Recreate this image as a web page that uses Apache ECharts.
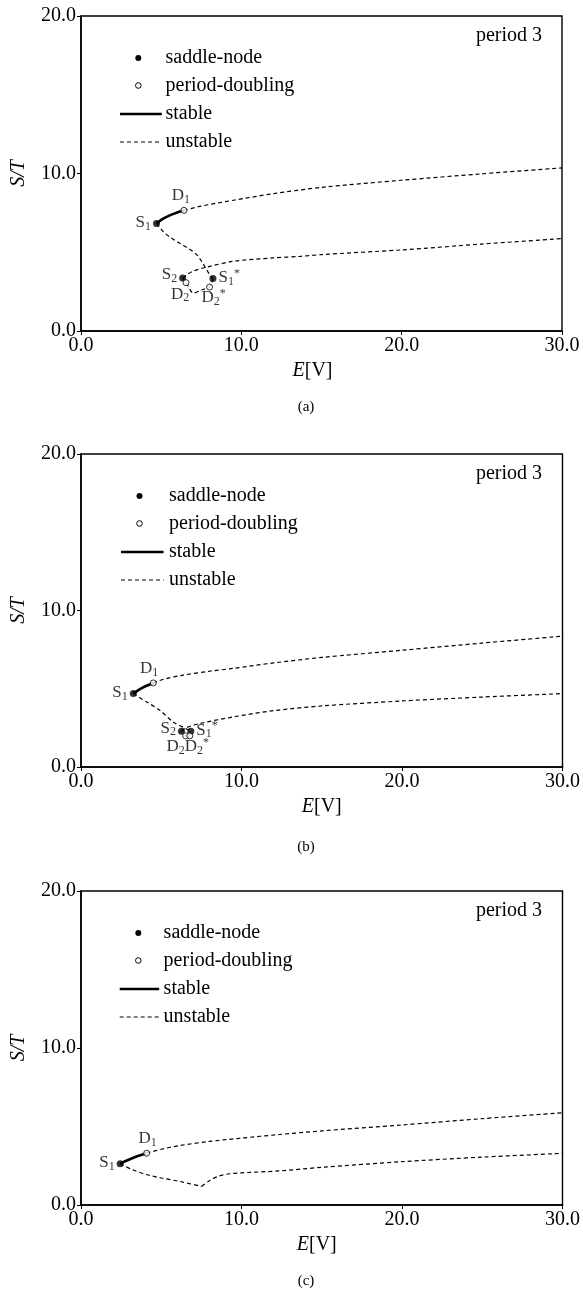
<!DOCTYPE html>
<html><head><meta charset="utf-8">
<script src="https://cdn.jsdelivr.net/npm/echarts@6/dist/echarts.min.js"></script>
<style>html,body{margin:0;padding:0;background:#fff}#c{width:583px;height:1290px}</style>
</head><body><div id="c"></div>
<script>
// ---------- data ----------
const xTicks = [0, 10, 20, 30];
const yTicks = [0, 10, 20];
const legendLabels = ['saddle-node', 'period-doubling', 'stable', 'unstable'];
const panelCaptions = ['(a)', '(b)', '(c)'];
const periodLabel = 'period 3';
const xName = 'E[V]';
const yName = 'S/T';

// Panel (a)
const stableA = [[4.71,6.83],[5.1,7.12],[5.57,7.36],[6.0,7.53],[6.42,7.66]];
const upperA = [[6.42,7.66],[7.5,7.93],[9.5,8.30],[12,8.72],[15,9.12],[20,9.57],[25,9.98],[30,10.36]];
const descA = [[4.71,6.83],[5.15,6.29],[5.6,5.92],[6.19,5.55],[6.7,5.24],[7.02,5.02],[7.3,4.75],[7.55,4.38],[7.86,3.85],[8.05,3.55],[8.23,3.33]];
const loopA = [[8.23,3.33],[8.02,2.79],[7.55,2.62],[7.02,2.41],[6.55,3.07],[6.34,3.37]];
const lowerA = [[6.34,3.37],[6.6,3.57],[7.02,3.81],[7.86,4.06],[9.52,4.43],[12,4.64],[13.68,4.74],[15,4.85],[20,5.15],[25,5.52],[30,5.87]];
const saddleA = [[4.71,6.83],[6.34,3.37],[8.23,3.33]];
const saddleNamesA = ['S1','S2','S1*'];
const pdA = [[6.42,7.66],[6.55,3.07],[8.02,2.79]];
const pdNamesA = ['D1','D2','D2*'];

// Panel (b)
const stableB = [[3.26,4.69],[3.6,4.93],[3.95,5.13],[4.5,5.37]];
const upperB = [[4.5,5.37],[5.2,5.62],[6.37,5.87],[8,6.12],[9.48,6.30],[12,6.65],[15,7.0],[20,7.46],[25,7.92],[30,8.36]];
const descB = [[3.26,4.69],[4.1,4.15],[4.91,3.63],[5.74,2.88],[6.52,2.46],[6.84,2.28]];
const loopB = [[6.84,2.28],[6.78,1.99],[6.65,1.92],[6.52,1.99],[6.26,2.28]];
const lowerB = [[6.26,2.28],[6.52,2.5],[7.41,2.78],[9.48,3.2],[12,3.6],[15,3.9],[20,4.22],[25,4.47],[30,4.69]];
const saddleB = [[3.26,4.69],[6.26,2.28],[6.84,2.28]];
const saddleNamesB = ['S1','S2','S1*'];
const pdB = [[4.5,5.37],[6.52,1.99],[6.78,1.99]];
const pdNamesB = ['D1','D2','D2*'];

// Panel (c)
const stableC = [[2.44,2.63],[2.9,2.85],[3.5,3.1],[4.09,3.3]];
const upperC = [[4.09,3.3],[5,3.55],[6.16,3.79],[8,4.05],[10,4.26],[12.36,4.49],[15,4.72],[20,5.1],[25,5.5],[30,5.87]];
const descC = [[2.44,2.63],[3.2,2.25],[4.09,1.94],[5,1.72],[6.16,1.5],[7.51,1.18]];
const lowerC = [[7.51,1.18],[8.02,1.56],[8.6,1.85],[9.26,1.99],[10,2.05],[12.36,2.17],[15,2.4],[20,2.76],[25,3.05],[30,3.29]];
const saddleC = [[2.44,2.63]];
const saddleNamesC = ['S1'];
const pdC = [[4.09,3.3]];
const pdNamesC = ['D1'];

// ---------- layout / style ----------
const FONT = "'Liberation Serif','Times New Roman',serif";
const grids = [
  {left: 81, top: 16, width: 481, height: 315},
  {left: 81, top: 454, width: 484, height: 313},
  {left: 81, top: 891, width: 484, height: 314}
];
const xNamePad = [[0, 18, 0, 0], [0, 0, 0, 0], [0, 10, 0, 0]];
const legendGeom = [
  {dot: 138.3, l1: 120, l2: 161.8, tx: 165.5},
  {dot: 139.5, l1: 121, l2: 163.6, tx: 169},
  {dot: 138.3, l1: 119.7, l2: 159.2, tx: 163.6}
];
const legendRows = [42, 69.5, 98, 126];
const captionY = [406.7, 846.7, 1280.7];

const labelOpts = {
  'S1': {position: 'left', distance: 2, offset: [0, -1]},
  'S2': {position: 'left', distance: 2, offset: [0, -3]},
  'S1*': {position: 'right', distance: 2, offset: [0, -1]},
  'D1': {position: 'top', distance: 1, offset: [-3, 0]},
  'D2': {position: 'bottom', distance: 0, offset: [-6, -2]},
  'D2*': {position: 'bottom', distance: 0, offset: [4, -3]}
};
const labelOptsB = {
  'D1': {position: 'top', distance: 1, offset: [-4, 0]},
  'D2': {position: 'bottom', distance: 0, offset: [-10, -3]},
  'D2*': {position: 'bottom', distance: 0, offset: [7, -3]}
};
const labelOptsC = {
  'D1': {position: 'top', distance: 1, offset: [1, 0]}
};

function richName(n) {
  const base = n.charAt(0), sub = n.charAt(1), star = n.length > 2;
  return '{m|' + base + '}{s|' + sub + '}' + (star ? '{p|*}' : '');
}
const rich = {
  m: {fontSize: 17, fontFamily: FONT, color: '#000', lineHeight: 20, verticalAlign: 'middle'},
  s: {fontSize: 12, fontFamily: FONT, color: '#000', lineHeight: 12, verticalAlign: 'bottom'},
  p: {fontSize: 12, fontFamily: FONT, color: '#000', lineHeight: 12, verticalAlign: 'top'}
};

function pointData(vals, names, override) {
  return vals.map((v, i) => {
    const o = Object.assign({}, labelOpts[names[i]], (override || {})[names[i]] || {});
    return {
      value: v,
      label: Object.assign({show: true, formatter: richName(names[i]), color: '#000',
        textBorderWidth: 0, fontFamily: FONT, rich: rich}, o)
    };
  });
}

const panels = [
  {stable: stableA, unstable: [upperA, descA, loopA, lowerA], saddle: saddleA, sn: saddleNamesA, pd: pdA, pn: pdNamesA, ov: {}},
  {stable: stableB, unstable: [upperB, descB, loopB, lowerB], saddle: saddleB, sn: saddleNamesB, pd: pdB, pn: pdNamesB, ov: labelOptsB},
  {stable: stableC, unstable: [upperC, descC, lowerC], saddle: saddleC, sn: saddleNamesC, pd: pdC, pn: pdNamesC, ov: labelOptsC}
];

const xAxes = [], yAxes = [], series = [], graphic = [];
panels.forEach((p, k) => {
  xAxes.push({
    type: 'value', gridIndex: k, min: xTicks[0], max: xTicks[xTicks.length - 1],
    interval: xTicks[1] - xTicks[0],
    axisLine: {lineStyle: {color: '#000', width: 1.6}},
    axisTick: {inside: false, length: 4, lineStyle: {color: '#000', width: 1}},
    axisLabel: {formatter: v => v.toFixed(1), fontSize: 20, fontFamily: FONT, color: '#000', margin: 5},
    splitLine: {show: false},
    name: '{i|E}[V]', nameLocation: 'middle', nameGap: 30,
    nameTextStyle: {fontSize: 20, fontFamily: FONT, color: '#000', padding: xNamePad[k],
      rich: {i: {fontSize: 20, fontFamily: FONT, fontStyle: 'italic', color: '#000'}}}
  });
  yAxes.push({
    type: 'value', gridIndex: k, min: yTicks[0], max: yTicks[yTicks.length - 1],
    interval: yTicks[1] - yTicks[0],
    axisLine: {lineStyle: {color: '#000', width: 1.6}},
    axisTick: {inside: false, length: 4, lineStyle: {color: '#000', width: 1}},
    axisLabel: {formatter: v => v.toFixed(1), fontSize: 20, fontFamily: FONT, color: '#000', margin: 5},
    splitLine: {show: false},
    name: yName, nameLocation: 'middle', nameGap: 52, nameRotate: 90,
    nameTextStyle: {fontSize: 20, fontFamily: FONT, fontStyle: 'italic', color: '#000'}
  });
  series.push({
    type: 'line', xAxisIndex: k, yAxisIndex: k, data: p.stable, showSymbol: false, symbol: 'none',
    smooth: 0.3, lineStyle: {color: '#000', width: 2.6}, z: 3, silent: true, animation: false
  });
  p.unstable.forEach(seg => {
    series.push({
      type: 'line', xAxisIndex: k, yAxisIndex: k, data: seg, showSymbol: false, symbol: 'none',
      smooth: 0.3, lineStyle: {color: '#000', width: 1.2, type: [4, 3]}, z: 2, silent: true, animation: false
    });
  });
  series.push({
    type: 'scatter', xAxisIndex: k, yAxisIndex: k, data: pointData(p.saddle, p.sn, p.ov),
    symbol: 'circle', symbolSize: 7, itemStyle: {color: '#000'}, z: 5, silent: true, animation: false
  });
  series.push({
    type: 'scatter', xAxisIndex: k, yAxisIndex: k, data: pointData(p.pd, p.pn, p.ov),
    symbol: 'circle', symbolSize: 6, itemStyle: {color: '#fff', borderColor: '#000', borderWidth: 1},
    z: 6, silent: true, animation: false
  });

  // legend (decorative) and texts
  const g = grids[k], lg = legendGeom[k];
  const ys = legendRows.map(r => g.top + r);
  graphic.push(
    {type: 'circle', shape: {cx: lg.dot, cy: ys[0], r: 3}, style: {fill: '#000'}, silent: true},
    {type: 'circle', shape: {cx: lg.dot, cy: ys[1], r: 2.8}, style: {fill: '#fff', stroke: '#000', lineWidth: 1}, silent: true},
    {type: 'line', shape: {x1: lg.l1, y1: ys[2], x2: lg.l2, y2: ys[2]}, style: {stroke: '#000', lineWidth: 2.4}, silent: true},
    {type: 'line', shape: {x1: lg.l1, y1: ys[3], x2: lg.l2, y2: ys[3]}, style: {stroke: '#000', lineWidth: 1.2, lineDash: [4, 3]}, silent: true}
  );
  legendLabels.forEach((t, i) => {
    graphic.push({type: 'text', x: lg.tx, y: ys[i], silent: true,
      style: {text: t, fontSize: 20, fontFamily: FONT, fill: '#000', align: 'left', verticalAlign: 'middle'}});
  });
  graphic.push({type: 'text', x: 542, y: g.top + 20, silent: true,
    style: {text: periodLabel, fontSize: 20, fontFamily: FONT, fill: '#000', align: 'right', verticalAlign: 'middle'}});
  graphic.push({type: 'text', x: 306, y: captionY[k], silent: true,
    style: {text: panelCaptions[k], fontSize: 15, fontFamily: FONT, fill: '#000', align: 'center', verticalAlign: 'middle'}});
});

const chart = echarts.init(document.getElementById('c'), null, {renderer: 'canvas'});
chart.setOption({
  animation: false,
  backgroundColor: '#fff',
  grid: grids.map(g => Object.assign({show: true, borderColor: '#000', borderWidth: 1.4, backgroundColor: 'transparent', containLabel: false}, g)),
  xAxis: xAxes,
  yAxis: yAxes,
  series: series,
  graphic: graphic
});
</script></body></html>
